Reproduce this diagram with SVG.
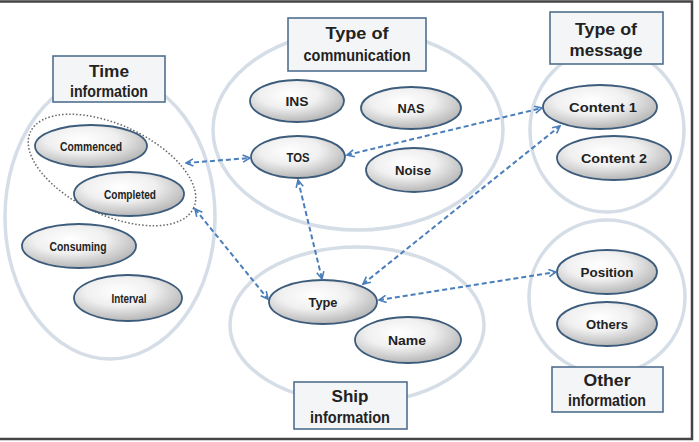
<svg xmlns="http://www.w3.org/2000/svg" width="699" height="442" viewBox="0 0 699 442">
<defs>
<radialGradient id="ng" cx="42%" cy="35%" r="70%">
<stop offset="0" stop-color="#ffffff"/>
<stop offset="0.45" stop-color="#f0f0f0"/>
<stop offset="1" stop-color="#aeaeae"/>
</radialGradient>
<marker id="ah" viewBox="0 0 10 10" refX="9" refY="5" markerWidth="9" markerHeight="9" markerUnits="userSpaceOnUse" orient="auto-start-reverse">
<path d="M1,1 L9,5 L1,9" fill="none" stroke="#4a7ebb" stroke-width="1.8"/>
</marker>
</defs>
<style>
.grp{fill:none;stroke:#d5dde7;stroke-width:3.5}
.box{fill:#f4f5f7;stroke:#50708f;stroke-width:1.6}
.node{fill:url(#ng);stroke:#3d5c7c;stroke-width:1.8}
.t{font-family:"Liberation Sans",Arial,sans-serif;font-weight:bold;fill:#222;text-anchor:middle}
.bt{font-size:17px}
.nt{font-size:13px}
.con{fill:none;stroke:#4a7ebb;stroke-width:2;stroke-dasharray:5 3;marker-start:url(#ah);marker-end:url(#ah)}
</style>
<rect x="0" y="0" width="699" height="442" fill="#fff"/>
<rect x="-2" y="1.5" width="694" height="437.5" fill="none" stroke="#444" stroke-width="2.5"/>

<g id="time-information">
<ellipse class="grp" cx="110" cy="217" rx="105" ry="142"/>
<rect class="box" x="53" y="56" width="112" height="46"/>
<text class="t bt" x="109" y="77" textLength="40" lengthAdjust="spacingAndGlyphs">Time</text>
<text class="t bt" x="109" y="97" textLength="78" lengthAdjust="spacingAndGlyphs">information</text>
<ellipse cx="112" cy="170" rx="90" ry="45" transform="rotate(25 112 170)" fill="none" stroke="#666" stroke-width="1.5" stroke-dasharray="1.5 2"/>
</g>
<g id="commenced"><ellipse class="node" cx="91" cy="146" rx="56" ry="21"/><text class="t nt" x="91" y="151" textLength="62" lengthAdjust="spacingAndGlyphs">Commenced</text></g>
<g id="completed"><ellipse class="node" cx="129" cy="194" rx="55" ry="22"/><text class="t nt" x="130" y="199" textLength="52" lengthAdjust="spacingAndGlyphs">Completed</text></g>
<g id="consuming"><ellipse class="node" cx="79" cy="246" rx="57" ry="22"/><text class="t nt" x="78" y="251" textLength="57" lengthAdjust="spacingAndGlyphs">Consuming</text></g>
<g id="interval"><ellipse class="node" cx="128" cy="298" rx="54" ry="23"/><text class="t nt" x="129" y="303" textLength="35" lengthAdjust="spacingAndGlyphs">Interval</text></g>

<g id="type-of-communication">
<ellipse class="grp" cx="358" cy="130" rx="145" ry="100"/>
<rect class="box" x="288" y="18" width="138" height="53"/>
<text class="t bt" x="357" y="39" textLength="63" lengthAdjust="spacingAndGlyphs">Type of</text>
<text class="t bt" x="357" y="61" textLength="107" lengthAdjust="spacingAndGlyphs">communication</text>
</g>
<g id="ins"><ellipse class="node" cx="297" cy="101" rx="47" ry="21"/><text class="t nt" x="297" y="106" textLength="23" lengthAdjust="spacingAndGlyphs">INS</text></g>
<g id="nas"><ellipse class="node" cx="411" cy="108" rx="50" ry="21"/><text class="t nt" x="411" y="113" textLength="27" lengthAdjust="spacingAndGlyphs">NAS</text></g>
<g id="tos"><ellipse class="node" cx="298" cy="157" rx="47" ry="21"/><text class="t nt" x="298" y="162" textLength="23" lengthAdjust="spacingAndGlyphs">TOS</text></g>
<g id="noise"><ellipse class="node" cx="414" cy="170" rx="48" ry="22"/><text class="t nt" x="413" y="175" textLength="36" lengthAdjust="spacingAndGlyphs">Noise</text></g>

<g id="type-of-message">
<ellipse class="grp" cx="607" cy="130" rx="77" ry="82"/>
<rect class="box" x="550" y="12" width="113" height="52"/>
<text class="t bt" x="606" y="35" textLength="62" lengthAdjust="spacingAndGlyphs">Type of</text>
<text class="t bt" x="606" y="56" textLength="73" lengthAdjust="spacingAndGlyphs">message</text>
</g>
<g id="content-1"><ellipse class="node" cx="600" cy="107" rx="57" ry="22"/><text class="t nt" x="603" y="112" textLength="68" lengthAdjust="spacingAndGlyphs">Content 1</text></g>
<g id="content-2"><ellipse class="node" cx="614" cy="158" rx="57" ry="22"/><text class="t nt" x="614" y="163" textLength="66" lengthAdjust="spacingAndGlyphs">Content 2</text></g>

<g id="ship-information">
<ellipse class="grp" cx="357" cy="325" rx="127" ry="78"/>
<rect class="box" x="294" y="382" width="113" height="47"/>
<text class="t bt" x="350" y="402" textLength="37" lengthAdjust="spacingAndGlyphs">Ship</text>
<text class="t bt" x="350" y="423" textLength="80" lengthAdjust="spacingAndGlyphs">information</text>
</g>
<g id="type"><ellipse class="node" cx="323" cy="302" rx="54" ry="22"/><text class="t nt" x="323" y="307" textLength="29" lengthAdjust="spacingAndGlyphs">Type</text></g>
<g id="name"><ellipse class="node" cx="408" cy="340" rx="53" ry="23"/><text class="t nt" x="407" y="345" textLength="38" lengthAdjust="spacingAndGlyphs">Name</text></g>

<g id="other-information">
<ellipse class="grp" cx="607" cy="297" rx="78" ry="77"/>
<rect class="box" x="552" y="367" width="111" height="45"/>
<text class="t bt" x="607" y="386" textLength="47" lengthAdjust="spacingAndGlyphs">Other</text>
<text class="t bt" x="607" y="406" textLength="78" lengthAdjust="spacingAndGlyphs">information</text>
</g>
<g id="position"><ellipse class="node" cx="607" cy="272" rx="50" ry="22"/><text class="t nt" x="607" y="277" textLength="53" lengthAdjust="spacingAndGlyphs">Position</text></g>
<g id="others"><ellipse class="node" cx="607" cy="324" rx="50" ry="22"/><text class="t nt" x="607" y="329" textLength="42" lengthAdjust="spacingAndGlyphs">Others</text></g>

<g id="connectors">
<line class="con" x1="186" y1="163" x2="250" y2="158"/>
<line class="con" x1="195" y1="209" x2="268" y2="299"/>
<line class="con" x1="298" y1="180" x2="322" y2="279"/>
<line class="con" x1="347" y1="155" x2="542" y2="108"/>
<line class="con" x1="363" y1="284" x2="560" y2="126"/>
<line class="con" x1="379" y1="300" x2="556" y2="272"/>
</g>
</svg>
